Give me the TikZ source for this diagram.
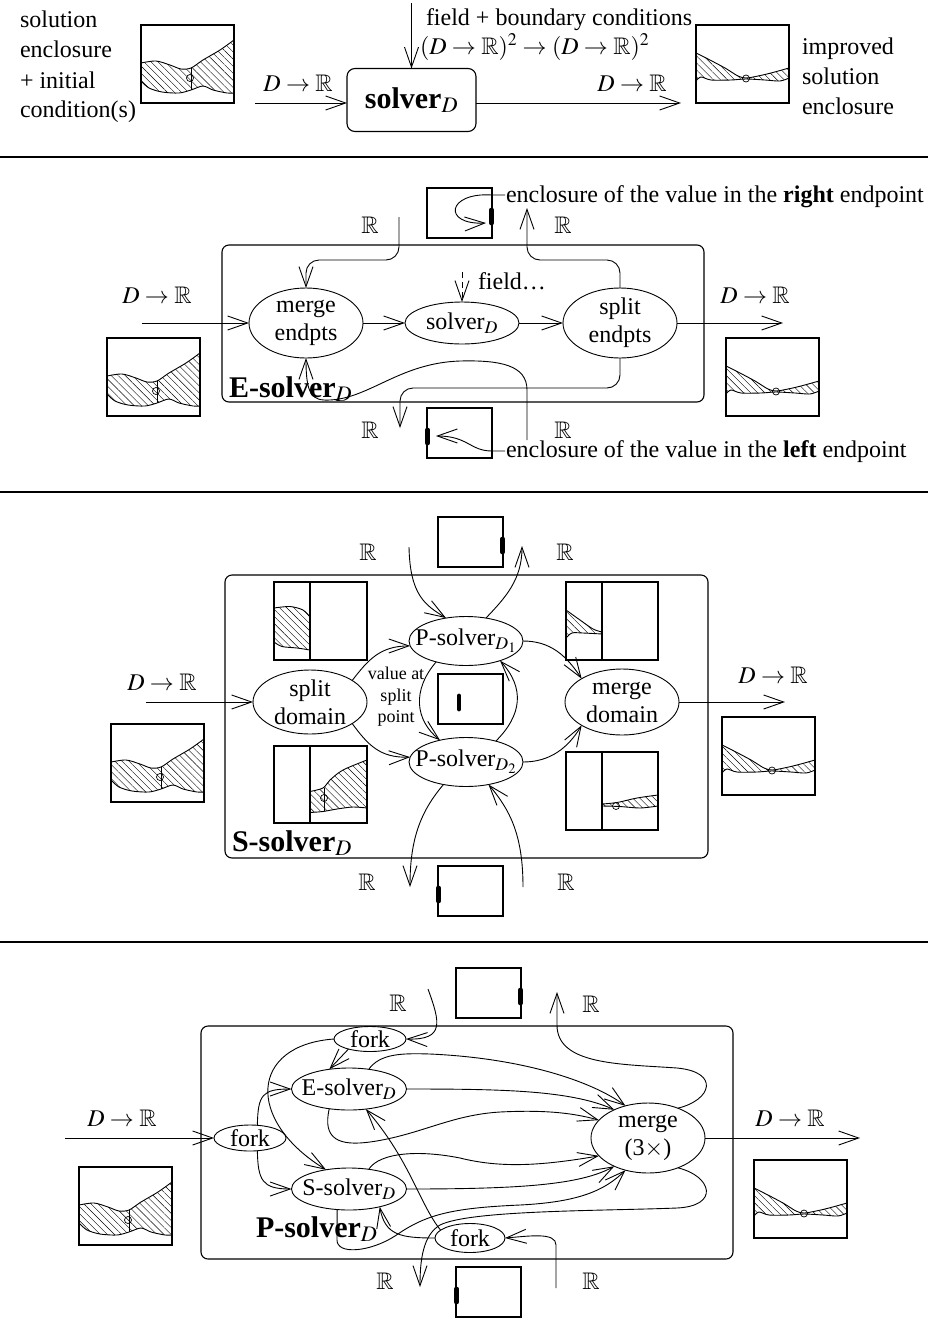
\documentclass[tikz,border=0pt]{standalone}
\usepackage{mathptmx}
\usepackage{amssymb}
\usepackage[no-math]{fontspec}
\setmainfont{Liberation Serif}
\usetikzlibrary{shapes.geometric,arrows.meta,patterns.meta}
\newcommand\mkell[5]{%
  \node (#1) [draw, ellipse, minimum width=#3pt, minimum height=#4pt] at (#2) {};
  \node (#1-t) [align=center] at (#1.center) {#5};}
\tikzset{
  hatch/.style={pattern={Lines[angle=-45,distance=5pt,line width=0.4pt]}},
  plotbox/.style={line width=1.1pt},
  bar/.style={line width=4.8pt, line cap=round},
  inplot/.pic={
    \path[hatch] plot[smooth] coordinates {(0,38) (15,36) (29,40) (40,44) (50,43) (62,35) (79,25) (93,15)}
      -- (93,68) -- plot[smooth] coordinates {(93,68) (86,68) (72,65) (62,61) (50,65) (38,68) (21,67) (8,63) (0,56)} -- cycle;
    \draw plot[smooth] coordinates {(0,38) (15,36) (29,40) (40,44) (50,43) (62,35) (79,25) (93,15)};
    \draw plot[smooth] coordinates {(0,56) (8,63) (21,67) (38,68) (50,65) (62,61) (72,65) (86,68) (93,68)};
    \draw[line width=0.7pt] (50,43) -- (50,65);
    \draw[line width=0.7pt] (49,53) circle[radius=3.5pt];
    \draw[plotbox] (0,0) rectangle (93,78);
  },
  outplot/.pic={
    \path[hatch] plot[smooth] coordinates {(0,28) (12,34) (29,43) (42,51) (50,53) (62,51) (75,48) (93,43)}
      -- (93,53) -- plot[smooth] coordinates {(93,53) (84,56) (69,55) (50,54) (35,55) (15,55) (5,52) (0,56)} -- cycle;
    \draw plot[smooth] coordinates {(0,28) (12,34) (29,43) (42,51) (50,53) (62,51) (75,48) (93,43)};
    \draw plot[smooth] coordinates {(0,56) (5,52) (15,55) (35,55) (50,54) (69,55) (84,56) (93,53)};
    \draw[line width=0.7pt] (50,53.5) circle[radius=3.5pt];
    \draw[plotbox] (0,0) rectangle (93,78);
  },
  rbox/.pic={\draw[plotbox] (0,0) rectangle (65,50); \draw[bar] (64.5,22) -- (64.5,35);},
  lbox/.pic={\draw[plotbox] (0,0) rectangle (65,50); \draw[bar] (0.5,22) -- (0.5,35);},
  mbox/.pic={\draw[plotbox] (0,0) rectangle (65,50); \draw[bar] (21,22) -- (21,35);},
}
\begin{document}
\begin{tikzpicture}[x=1pt,y=-1pt,
  every node/.style={font=\fontsize{24}{28}\selectfont, inner sep=0pt, outer sep=0pt},
  line width=0.9pt,
  >={Straight Barb[length=20pt,width=14pt]},
  big/.style={font=\fontsize{30}{36}\selectfont\bfseries},
  frame/.style={draw, rounded corners=7pt, line width=1.1pt},
  sepline/.style={line width=2pt},
  small/.style={font=\fontsize{18}{21.5}\selectfont}]
\useasboundingbox (0,0) rectangle (928,1318);

% ================= Section 1 =================
\node (lt1) [anchor=base west] at (20,27) {solution};
\node (lt2) [anchor=base west] at (20,57) {enclosure};
\node (lt3) [anchor=base west] at (20,88) {+ initial};
\node (lt4) [anchor=base west] at (20,117) {condition(s)};
\pic at (141,25) {inplot};
\node (solver) [draw, rounded corners=8pt, line width=1.1pt, minimum width=129pt, minimum height=63pt, big] at (411.5,100) {solver$_D$};
\coordinate (i1) at (255,103);
\draw[->] (i1) -- (i1 -| solver.west);
\node (l1) at (298,83) {$D\to\mathbb{R}$};
\coordinate (f1) at (411.5,3);
\draw[->] (f1) -- (solver.north);
\node (ft1) [anchor=base west] at (426,25) {field + boundary conditions};
\node (ft2) [anchor=base west] at (420,54) {$(D\to\mathbb{R})^2\to(D\to\mathbb{R})^2$};
\coordinate (o1) at (681,103);
\draw[->] (o1 -| solver.east) -- (o1);
\node (l2) at (632,83) {$D\to\mathbb{R}$};
\pic at (696,25) {outplot};
\node (rt1) [anchor=base west] at (802,54) {improved};
\node (rt2) [anchor=base west] at (802,84) {solution};
\node (rt3) [anchor=base west] at (802,114) {enclosure};
\draw[sepline] (0,157) -- (928,157);

% ================= Section 2 =================
\draw[frame] (222,245) rectangle (704,402);
\mkell{me}{306,323}{114}{70}{merge\\endpts}
\mkell{sv}{462,323}{114}{42}{solver$_D$}
\mkell{se}{620,323}{114}{70}{split\\endpts}
\coordinate (i2) at (142,323);
\draw[->] (i2) -- (me);
\node (l3) at (157,295) {$D\to\mathbb{R}$};
\draw[->] (me) -- (sv);
\draw[->] (sv) -- (se);
\coordinate (o2) at (783,323);
\draw[->] (se) -- (o2);
\node (l4) at (755,295) {$D\to\mathbb{R}$};
\pic at (107,338) {inplot};
\pic at (726,338) {outplot};
\coordinate (fd) at (462,272);
\draw[->, dash pattern=on 6pt off 4pt] (fd) -- (sv);
\node (fl) [anchor=west] at (478,281) {field\ldots};
\node (eL) [big, anchor=base west] at (229,397) {E-solver$_D$};
\pic at (427,188) {rbox};
\pic at (427,408) {lbox};
\node (rtx) [anchor=base west] at (506,202) {enclosure of the value in the \textbf{right} endpoint};
\node (ltx) [anchor=base west] at (506,457) {enclosure of the value in the \textbf{left} endpoint};
\coordinate (c2a) at (505,195);
\draw[->] (c2a) -- (492,195) .. controls (447,192) and (442,225) .. (486,223);
\coordinate (c2b) at (505,451);
\draw[->] (c2b) -- (492,451) .. controls (470,451) and (468,436) .. (436,436);
\node (R2a) at (370,225) {$\mathbb{R}$};
\node (R2b) at (563,225) {$\mathbb{R}$};
\node (R2c) at (370,430) {$\mathbb{R}$};
\node (R2d) at (563,430) {$\mathbb{R}$};
\coordinate (r2a) at (399,217);
\draw[->, rounded corners=13pt] (r2a) -- (399,260) -- (306,260) -- (me.north);
\coordinate (r2b) at (527,208);
\draw[->, rounded corners=13pt] (se.north) -- (620,260) -- (527,260) -- (r2b);
\coordinate (r2c) at (400,428);
\draw[->, rounded corners=13pt] (se.south) -- (620,388) -- (400,388) -- (r2c);
\coordinate (r2d) at (527,440);
\draw[->] (r2d) -- (527,390) .. controls (527,365) and (500,360) .. (460,361) .. controls (400,363) and (370,398) .. (330,400) .. controls (312,401) and (306,395) .. (me.south);
\draw[sepline] (0,492) -- (928,492);

% ================= Section 3 =================
\draw[frame] (225,575) rectangle (708,858);
\mkell{sd}{310,702}{114}{64}{split\\domain}
\mkell{p1}{466,641}{114}{49}{P-solver$_{D_1}$}
\mkell{p2}{466,762}{114}{49}{P-solver$_{D_2}$}
\mkell{md}{622,702}{114}{66}{merge\\domain}
\coordinate (i3) at (146,702);
\draw[->] (i3) -- (sd);
\node (l5) at (162,682) {$D\to\mathbb{R}$};
\coordinate (o3) at (785,702);
\draw[->] (md) -- (o3);
\node (l6) at (773,675) {$D\to\mathbb{R}$};
\pic at (111,724) {inplot};
\pic at (722,717) {outplot};
\pic at (438,517) {rbox};
\pic at (438,674) {mbox};
\pic at (438,866) {lbox};
\node (vs) [small, align=center] at (396,697) {value at\\split\\point};
\node (sL) [big, anchor=base west] at (232,851) {S-solver$_D$};
\node (R3a) at (368,552) {$\mathbb{R}$};
\node (R3b) at (565,552) {$\mathbb{R}$};
\node (R3c) at (367,882) {$\mathbb{R}$};
\node (R3d) at (566,882) {$\mathbb{R}$};
% split plots
\draw[plotbox] (274,582) rectangle (367,660); \draw[plotbox] (310,582) -- (310,660);
\path[hatch] plot[smooth] coordinates {(274,608) (290,606.5) (303,610) (310,617)} -- (310,650) -- plot[smooth] coordinates {(310,650) (297,648) (282,646.5) (274,642)} -- cycle;
\draw plot[smooth] coordinates {(274,608) (290,606.5) (303,610) (310,617)};
\draw plot[smooth] coordinates {(274,642) (282,646.5) (297,648) (310,650)};
\draw[plotbox] (274,746) rectangle (367,823); \draw[plotbox] (310,746) -- (310,823);
\path[hatch] plot[smooth] coordinates {(310,791.5) (323,788) (330,780) (343,770) (367,760)} -- (367,808) -- plot[smooth] coordinates {(367,808) (353,807) (337,809) (323,811.5) (310,812.5)} -- cycle;
\draw plot[smooth] coordinates {(310,791.5) (323,788) (330,780) (343,770) (367,760)};
\draw plot[smooth] coordinates {(310,812.5) (323,811.5) (337,809) (353,807) (367,808)};
\draw[line width=0.7pt] (324,788) -- (324,811);
\draw[line width=0.7pt] (324,798) circle[radius=3.5pt];
% merge plots
\draw[plotbox] (566,582) rectangle (658,660); \draw[plotbox] (602,582) -- (602,660);
\path[hatch] plot[smooth] coordinates {(566,610) (580,620) (593,629) (602,632)} -- (602,634) -- plot[smooth] coordinates {(602,634) (583,633) (572,633) (566,638)} -- cycle;
\draw plot[smooth] coordinates {(566,610) (580,620) (593,629) (602,632)};
\draw plot[smooth] coordinates {(566,638) (572,633) (583,633) (602,634)};
\draw[plotbox] (566,752) rectangle (658,830); \draw[plotbox] (602,752) -- (602,830);
\path[hatch] plot[smooth] coordinates {(602,804) (617,802.5) (637,798) (658,795)} -- (658,806) -- plot[smooth] coordinates {(658,806) (640,808) (620,806.5) (602,806)} -- cycle;
\draw plot[smooth] coordinates {(602,804) (617,802.5) (637,798) (658,795)};
\draw plot[smooth] coordinates {(602,806) (620,806.5) (640,808) (658,806)};
\draw[line width=0.7pt] (616,806) circle[radius=3.5pt];
% curves
\draw[->] (sd.27) .. controls (368,660) and (380,646) .. (p1.185);
\draw[->] (sd.-27) .. controls (368,745) and (380,758) .. (p2.175);
\coordinate (r3a) at (409,547);
\draw[->] (r3a) .. controls (410,595) and (425,605) .. (p1.131);
\coordinate (r3b) at (522,546);
\draw[->] (p1.49) .. controls (505,598) and (522,580) .. (r3b);
\draw[->] (p1.215) .. controls (412,690) and (415,720) .. (p2.140);
\draw[->] (p2.35) .. controls (522,715) and (525,688) .. (p1.-30);
\draw[->] (p1.east) .. controls (550,641) and (566,655) .. (md.150);
\draw[->] (p2.east) .. controls (550,762) and (568,748) .. (md.210);
\coordinate (r3c) at (410,887);
\draw[->] (p2.225) .. controls (420,812) and (410,840) .. (r3c);
\coordinate (r3d) at (523,887);
\draw[->] (r3d) .. controls (523,835) and (510,810) .. (p2.-45);
\draw[sepline] (0,942) -- (928,942);

% ================= Section 4 =================
\draw[frame] (201,1026) rectangle (733,1259);
\mkell{fk}{250,1138}{72}{26}{fork}
\mkell{ft}{370,1039}{72}{25}{fork}
\mkell{fb}{470,1238}{70}{29}{fork}
\mkell{es}{349,1089}{115}{42}{E-solver$_D$}
\mkell{ss}{349,1189}{115}{42}{S-solver$_D$}
\mkell{mg}{648,1138}{114}{70}{merge\\(3$\times$)}
\coordinate (i4) at (65,1138);
\draw[->] (i4) -- (fk);
\node (l7) at (122,1118) {$D\to\mathbb{R}$};
\coordinate (o4) at (860,1138);
\draw[->] (mg) -- (o4);
\node (l8) at (790,1118) {$D\to\mathbb{R}$};
\pic at (79,1167) {inplot};
\pic at (754,1160) {outplot};
\pic at (456,968) {rbox};
\pic at (456,1267) {lbox};
\node (pL) [big, anchor=base west] at (256,1237) {P-solver$_D$};
\node (R4a) at (398,1003) {$\mathbb{R}$};
\node (R4b) at (591,1004) {$\mathbb{R}$};
\node (R4c) at (385,1281) {$\mathbb{R}$};
\node (R4d) at (591,1281) {$\mathbb{R}$};
\coordinate (r4a) at (428,989);
\draw[->] (r4a) .. controls (440,1022) and (445,1040) .. (ft.east);
\draw[->] (ft.205) -- (es.135);
\draw[->] (ft.west) .. controls (250,1045) and (245,1120) .. (ss.140);
\draw[->] (fk.60) .. controls (258,1095) and (262,1089) .. (es.west);
\draw[->] (fk.-60) .. controls (258,1180) and (262,1189) .. (ss.west);
\draw[->] (es.45) .. controls (380,1054) and (400,1053) .. (430,1054) .. controls (520,1058) and (590,1080) .. (mg.125);
\draw[->] (es.east) .. controls (500,1089) and (570,1090) .. (mg.140);
\draw[->] (es.225) .. controls (322,1140) and (340,1146) .. (370,1142) .. controls (420,1135) and (450,1115) .. (500,1112) .. controls (540,1110) and (570,1112) .. (mg.160);
\draw[->] (ss.45) .. controls (380,1152) and (420,1150) .. (460,1158) .. controls (500,1168) and (540,1166) .. (mg.200);
\draw[->] (ss.east) .. controls (520,1189) and (580,1185) .. (mg.220);
\draw[->] (ss.240) -- (337,1240) .. controls (337,1255) and (370,1252) .. (395,1236) .. controls (425,1215) and (450,1208) .. (520,1205) .. controls (580,1202) and (605,1190) .. (mg.235);
\coordinate (r4b) at (557,992);
\draw[->] (mg.45) .. controls (712,1100) and (720,1072) .. (677,1068) .. controls (620,1064) and (557,1065) .. (557,1025) -- (r4b);
\coordinate (r4c) at (420,1287);
\draw[->] (mg.-45) .. controls (712,1176) and (720,1206) .. (677,1208) .. controls (600,1211) and (470,1210) .. (440,1225) .. controls (423,1235) and (420,1260) .. (r4c);
\draw[->] (fb.165) .. controls (420,1205) and (410,1160) .. (es.-50);
\draw[->] (fb.west) .. controls (400,1238) and (385,1235) .. (ss.-30);
\coordinate (r4d) at (556,1288);
\draw[->] (r4d) -- (556,1245) .. controls (556,1232) and (530,1236) .. (fb.east);
\end{tikzpicture}
\end{document}
